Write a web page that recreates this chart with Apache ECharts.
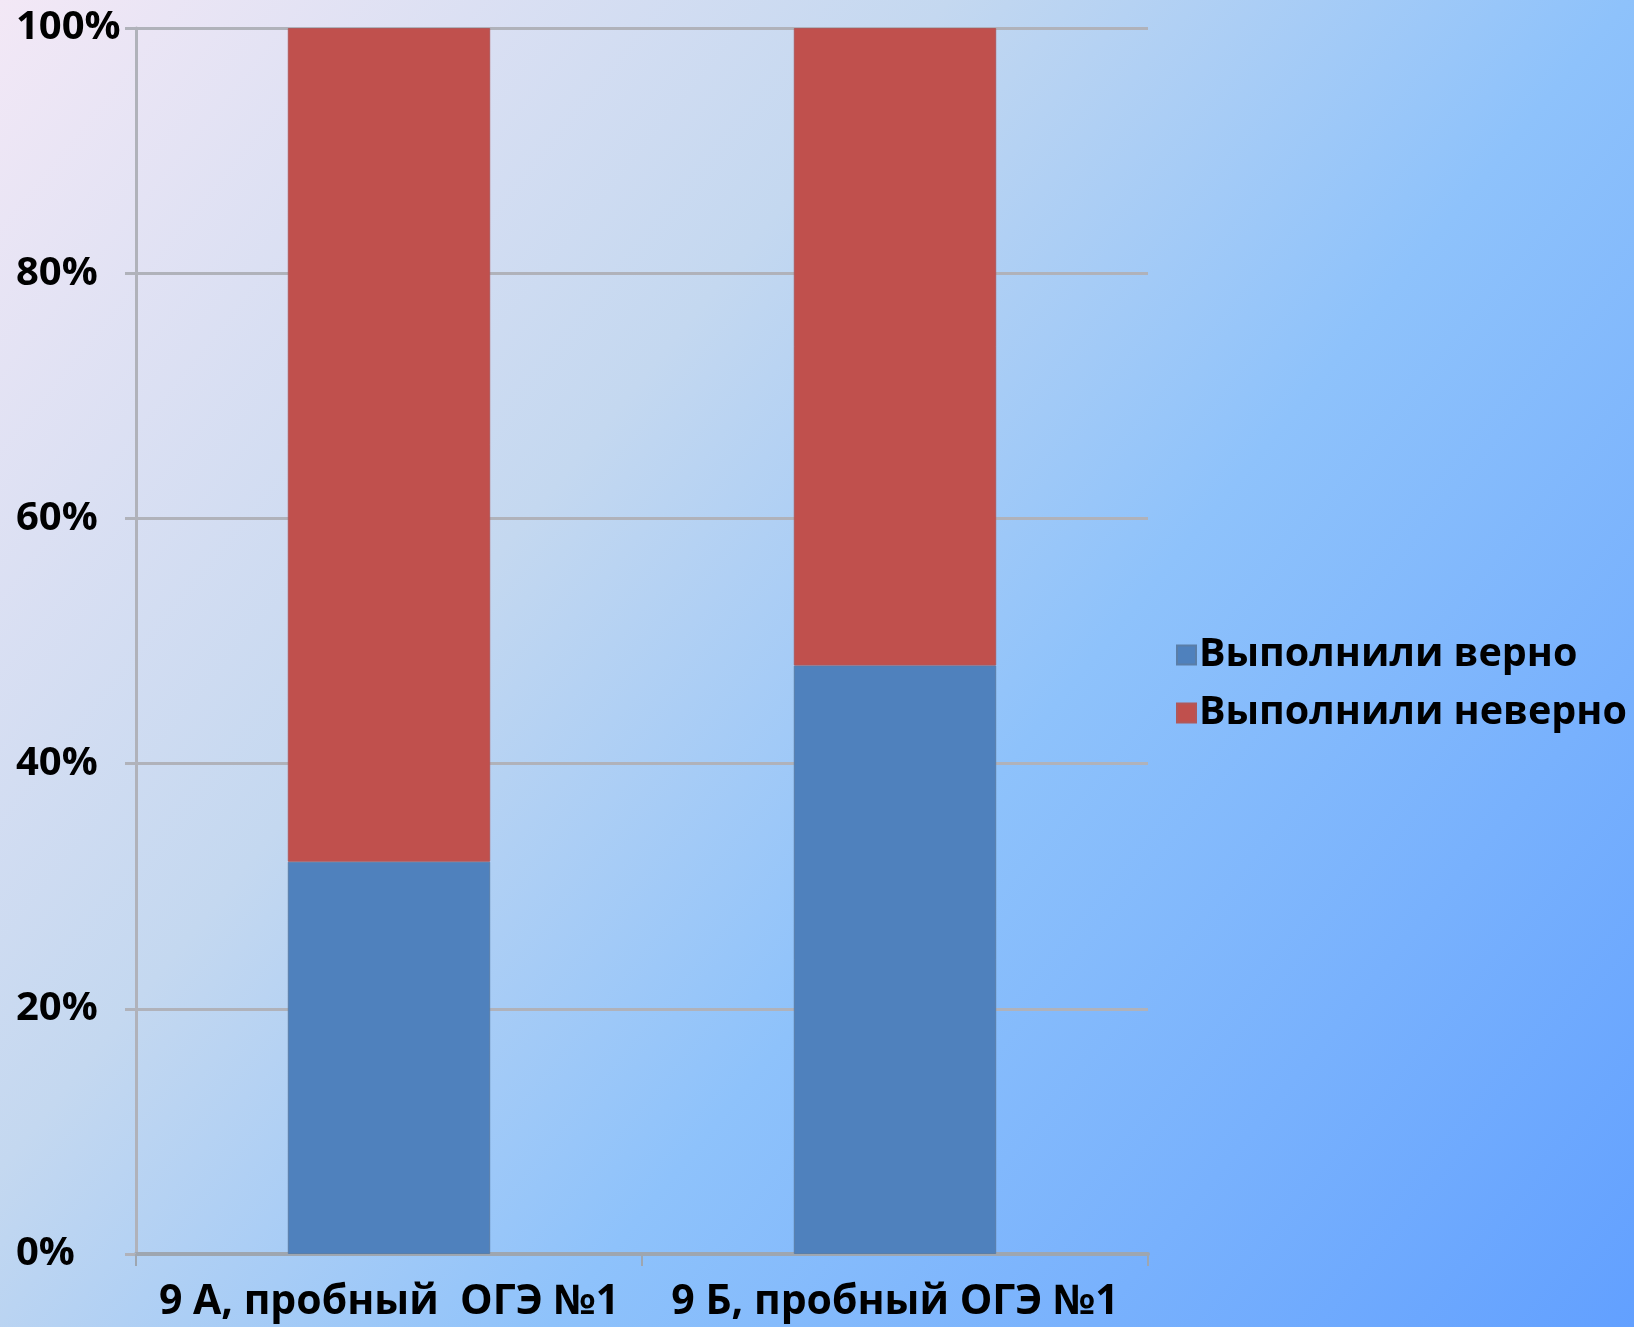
<!DOCTYPE html>
<html>
<head>
<meta charset="utf-8">
<script src="https://cdn.jsdelivr.net/npm/echarts@6/dist/echarts.min.js"></script>
<style>
html,body{margin:0;padding:0;width:1634px;height:1327px;overflow:hidden;}
#chart{width:1634px;height:1327px;}
</style>
</head>
<body>
<div id="chart"></div>
<script>
const categories = ['9 А, пробный  ОГЭ №1', '9 Б, пробный ОГЭ №1'];
const seriesNames = ['Выполнили верно', 'Выполнили неверно'];
const correct = [32, 48];
const incorrect = [68, 52];
const yTicks = [0, 20, 40, 60, 80, 100];

const chart = echarts.init(document.getElementById('chart'));
const font = '"Open Sans", "DejaVu Sans", sans-serif';
chart.setOption({
  backgroundColor: new echarts.graphic.LinearGradient(0, 0, 1, 1, [
    {offset: 0, color: '#f3e8f6'},
    {offset: 0.35, color: '#c4d8f0'},
    {offset: 0.6, color: '#8ec2fb'},
    {offset: 1, color: '#62a0ff'}
  ]),
  animation: false,
  grid: {left: 136, right: 486, top: 28, bottom: 73, containLabel: false},
  legend: {
    orient: 'vertical',
    left: 1171,
    top: 630,
    itemWidth: 19,
    itemHeight: 19,
    itemGap: 18,
    icon: 'rect',
    data: seriesNames,
    textStyle: {fontFamily: font, fontWeight: 'bold', fontSize: 39.5, color: '#000', padding: [0, 0, 0, -2]}
  },
  xAxis: {
    type: 'category',
    data: categories,
    axisLine: {lineStyle: {color: '#9ea6b0', width: 4}},
    axisTick: {show: true, length: 12, lineStyle: {color: '#9ea6b0', width: 2}},
    axisLabel: {interval: 0, fontFamily: font, fontWeight: 'bold', fontSize: 41, color: '#000', margin: 28}
  },
  yAxis: {
    type: 'value',
    min: 0, max: 100, interval: 20,
    axisLine: {show: true, lineStyle: {color: '#b0b2ba', width: 3}},
    axisTick: {show: true, length: 11, lineStyle: {color: '#b0b2ba', width: 3}},
    splitLine: {lineStyle: {color: '#b0b2ba', width: 3}},
    axisLabel: {
      fontFamily: font, fontWeight: 'bold', fontSize: 40, color: '#000', margin: 120, align: 'left',
      formatter: v => (yTicks.includes(v) ? v + '%' : '')
    }
  },
  series: [
    {name: seriesNames[0], type: 'bar', stack: 's', data: correct, barWidth: '40%',
     itemStyle: {color: '#4f81bd', borderColor: '#5a7ea8', borderWidth: 1}},
    {name: seriesNames[1], type: 'bar', stack: 's', data: incorrect, barWidth: '40%',
     itemStyle: {color: '#c0504d', borderColor: '#b0585a', borderWidth: 1}}
  ]
});
</script>
</body>
</html>
